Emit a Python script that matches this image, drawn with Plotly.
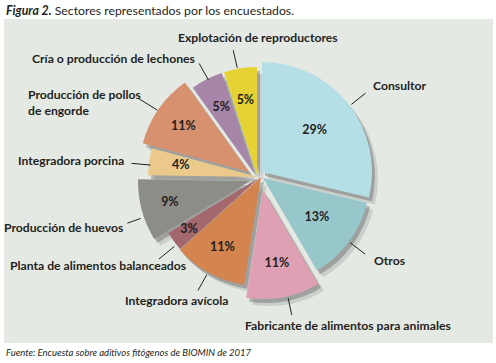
import numpy as np
import plotly.graph_objects as go

# ---------------- data ----------------
categories = [
    "Consultor",
    "Otros",
    "Fabricante de alimentos para animales",
    "Integradora avícola",
    "Planta de alimentos balanceados",
    "Producción de huevos",
    "Integradora porcina",
    "Producción de pollos de engorde",
    "Cría o producción de lechones",
    "Explotación de reproductores",
]
values = [29, 13, 11, 11, 3, 9, 4, 11, 5, 5]
pct_labels = [f"{v}%" for v in values]
outer_labels = [
    "Consultor",
    "Otros",
    "Fabricante de alimentos para animales",
    "Integradora avícola",
    "Planta de alimentos balanceados",
    "Producción de huevos",
    "Integradora porcina",
    "Producción de pollos<br>de engorde",
    "Cría o producción de lechones",
    "Explotación de reproductores",
]

# ---------------- style ----------------
W, H = 496, 363
CX, CY = 262, 175          # pie centre in pixels
HALF = 130                 # radial range of each slice subplot (px)
colors = ["#b5dfe6", "#97c7cb", "#e0a0b4", "#d4844f", "#a4676d",
          "#8d8d88", "#ebc98a", "#d8916f", "#a785a8", "#e5d334"]
# explode offsets (px) and radii (px) per slice
offsets = [(0, -3), (1, 3), (1, 15), (-1, 2), (-3, 3),
           (-12, 6), (-4, 2), (-13, -3), (-8, -2), (-5, 0)]
radii = [110, 107, 109, 109, 106, 112, 110, 110, 105, 108]
pct_r = [67, 67, 75, 81, 87, 83, 78, 80, 73, 75]
# leader lines (angle, inner r, outer r) in overlay polar centred at CX, CY
lead_theta = [51.7, 127.5, 168.0, 209.0, 230.8, 250.3, 275.1, 301.8, 330.6, 347.0]
lead_r0 = [114, 111, 126, 114, 113, 129, 112, 123, 109, 110]
lead_r1 = [132, 130, 143, 132, 133, 143, 131, 146, 128, 128]
# label anchors (px)
lab_pos = [(371, 86, "left"), (372, 260, "left"), (243, 325, "left"),
           (123, 300, "left"), (8, 265, "left"), (125, 227, "right"),
           (126, 160, "right"), (26, 103, "left"), (197, 58, "right"),
           (258, 38, "center")]
TXT = "#231f20"
FONT = "Lato"
LAB_SIZE = 12.2

vals = np.array(values, dtype=float)
widths = vals / vals.sum() * 360.0
starts = np.concatenate([[0], np.cumsum(widths)[:-1]])
mids = starts + widths / 2


def dom(px, py, half):
    return dict(x=[(px - half) / W, (px + half) / W],
                y=[1 - (py + half) / H, 1 - (py - half) / H])


def polar_layout(px, py, half):
    return dict(
        domain=dom(px, py, half),
        bgcolor="rgba(0,0,0,0)",
        radialaxis=dict(range=[0, half], visible=False, showgrid=False),
        angularaxis=dict(rotation=90, direction="clockwise", visible=False,
                         showgrid=False),
    )


fig = go.Figure()
layout_polars = {}

shadow_layers = [((6, 7), "rgba(0,0,0,0.11)", 10),
                 ((3, 4), "rgba(0,0,0,0.22)", 20)]
for (sx, sy), scol, base_id in shadow_layers:
    for i in range(len(values)):
        pid = f"polar{base_id + i}"
        ox, oy = offsets[i]
        layout_polars[pid] = polar_layout(CX + ox + sx, CY + oy + sy, HALF)
        fig.add_trace(go.Barpolar(
            r=[radii[i]], theta=[mids[i]], width=[widths[i]],
            marker=dict(color=scol, line=dict(width=0)),
            subplot=pid, hoverinfo="skip", showlegend=False))

for i in range(len(values)):
    pid = f"polar{30 + i}"
    ox, oy = offsets[i]
    layout_polars[pid] = polar_layout(CX + ox, CY + oy, HALF)
    fig.add_trace(go.Barpolar(
        r=[radii[i]], theta=[mids[i]], width=[widths[i]],
        marker=dict(color=colors[i], line=dict(width=0)),
        name=categories[i], subplot=pid, showlegend=False))
    fig.add_trace(go.Scatterpolar(
        r=[pct_r[i]], theta=[mids[i]], mode="text", text=[pct_labels[i]],
        textfont=dict(family=FONT, size=12.5, color=TXT, weight="bold"),
        subplot=pid, hoverinfo="skip", showlegend=False, cliponaxis=False))

# leader lines
HALF2 = 150
layout_polars["polar40"] = polar_layout(CX, CY, HALF2)
for i in range(len(values)):
    fig.add_trace(go.Scatterpolar(
        r=[lead_r0[i], lead_r1[i]], theta=[lead_theta[i], lead_theta[i]],
        mode="lines", line=dict(color=TXT, width=1),
        subplot="polar40", hoverinfo="skip", showlegend=False, cliponaxis=False))

annotations = []
for i, (px, py, anc) in enumerate(lab_pos):
    annotations.append(dict(
        text=outer_labels[i], x=px / W, y=1 - py / H, xref="paper", yref="paper",
        xanchor=anc, yanchor="middle", align="left", showarrow=False,
        font=dict(family=FONT, size=LAB_SIZE, color=TXT, weight="bold")))

annotations.append(dict(
    text="<b><i>Figura 2.</i></b> Sectores representados por los encuestados.",
    x=4 / W, y=1 - 10 / H, xref="paper", yref="paper", xanchor="left",
    yanchor="middle", showarrow=False,
    font=dict(family=FONT, size=12.3, color=TXT)))
annotations.append(dict(
    text="<i>Fuente: Encuesta sobre aditivos fitógenos de BIOMIN de 2017</i>",
    x=4 / W, y=1 - 352 / H, xref="paper", yref="paper", xanchor="left",
    yanchor="middle", showarrow=False,
    font=dict(family=FONT, size=9.5, color=TXT)))

fig.update_layout(
    width=W, height=H, margin=dict(l=0, r=0, t=0, b=0),
    paper_bgcolor="white", plot_bgcolor="white", showlegend=False,
    annotations=annotations,
    shapes=[dict(type="rect", xref="paper", yref="paper",
                 x0=4 / W, x1=493 / W, y0=1 - 343 / H, y1=1 - 19 / H,
                 fillcolor="#e5e9e4", line=dict(width=0), layer="below")],
    **layout_polars,
)

fig.write_html("out.html",
               config={"displayModeBar": False},
               post_script="document.body.style.margin='0';"
                           "document.body.style.overflow='hidden';")
